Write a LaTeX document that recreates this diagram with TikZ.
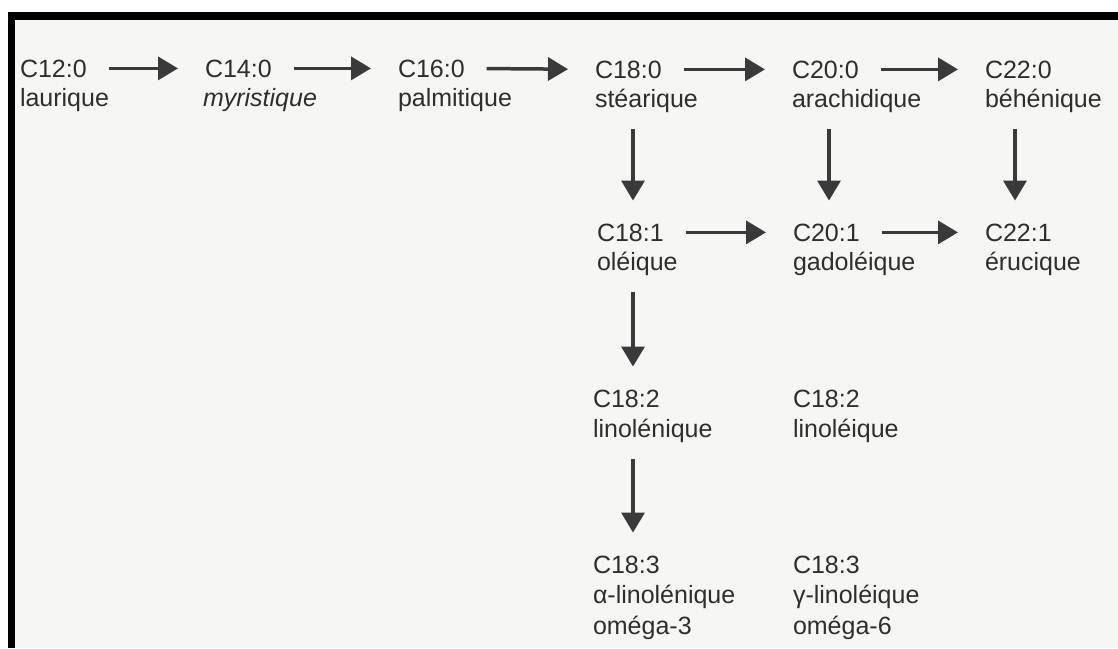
\documentclass[tikz,border=0pt]{standalone}
\usepackage{fontspec}
\setmainfont{Liberation Sans}
\usetikzlibrary{arrows.meta}
\definecolor{ink}{HTML}{2E2E2E}
\definecolor{arrowink}{HTML}{3A3A3A}
\definecolor{paper}{HTML}{F6F6F4}
\begin{document}
\begin{tikzpicture}[x=1pt,y=-1pt,
  acid/.style={anchor=base west, inner sep=0pt, outer sep=0pt, text=ink,
    font=\fontsize{25}{30}\selectfont},
  flow/.style={draw=arrowink, line width=3.5pt,
    -{Triangle[length=20pt,width=23pt]}, shorten <=22pt, shorten >=27pt},
  vflow/.style={draw=arrowink, line width=3.5pt,
    -{Triangle[length=20pt,width=23pt]}, shorten <=17pt, shorten >=23pt}]
\useasboundingbox (0,0) rectangle (1118,648);
\fill[white] (0,0) rectangle (1118,648);
\fill[paper] (15,20) rectangle (1118,648);
\fill[black] (8,12) rectangle (1118,20);
\fill[black] (8,12) rectangle (15,648);

% row 1
\node[acid] (c12) at (20,77) {C12:0};
\node[acid] (n12) at (20,106) {laurique};
\node[acid] (c14) at (205,77) {C14:0};
\node[acid, font=\fontsize{25}{30}\selectfont\itshape] (n14) at (203,106) {myristique};
\node[acid] (c16) at (398,77) {C16:0};
\node[acid] (n16) at (398,106) {palmitique};
\node[acid] (c18) at (595,78) {C18:0};
\node[acid] (n18) at (595,107) {stéarique};
\node[acid] (c20) at (792,78) {C20:0};
\node[acid] (n20) at (792,107) {arachidique};
\node[acid] (c22) at (985,78) {C22:0};
\node[acid] (n22) at (985,107) {béhénique};

% row 2
\node[acid] (c181) at (597,241) {C18:1};
\node[acid] (n181) at (597,270) {oléique};
\node[acid] (c201) at (793,241) {C20:1};
\node[acid] (n201) at (793,270) {gadoléique};
\node[acid] (c221) at (985,241) {C22:1};
\node[acid] (n221) at (985,270) {érucique};

% row 3
\node[acid] (c182) at (593,407) {C18:2};
\node[acid] (n182) at (593,437) {linolénique};
\node[acid] (c182b) at (793,407) {C18:2};
\node[acid] (n182b) at (793,437) {linoléique};

% row 4
\node[acid] (c183) at (593,573) {C18:3};
\node[acid] (n183) at (593,603) {α-linolénique};
\node[acid] (o3) at (593,634) {oméga-3};
\node[acid] (c183b) at (793,573) {C18:3};
\node[acid] (n183b) at (793,603) {γ-linoléique};
\node[acid] (o6) at (793,634) {oméga-6};

% horizontal connectors
\draw[flow] (c12.east) -- (c14.west);
\draw[flow] (c14.east) -- (c16.west);
\draw[flow] (c16.east) -- (c18.west);
\draw[flow] (c18.east) -- (c20.west);
\draw[flow] (c20.east) -- (c22.west);
\draw[flow] (c181.east) -- (c201.west);
\draw[flow] (c201.east) -- (c221.west);

% vertical connectors
\draw[vflow] ([xshift=38pt]n18.south west) -- ([xshift=36pt]c181.north west);
\draw[vflow] ([xshift=37pt]n20.south west) -- ([xshift=36pt]c201.north west);
\draw[vflow] ([xshift=30pt]n22.south west) -- ([xshift=30pt]c221.north west);
\draw[vflow] ([xshift=36pt]n181.south west) -- ([xshift=40pt]c182.north west);
\draw[vflow] ([xshift=40pt]n182.south west) -- ([xshift=40pt]c183.north west);
\end{tikzpicture}
\end{document}
